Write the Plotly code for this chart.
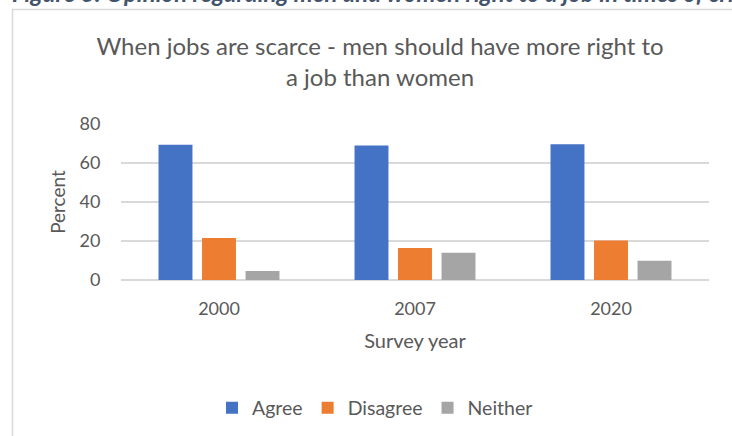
import plotly.graph_objects as go

years = ["2000", "2007", "2020"]
agree = [69.4, 69.0, 69.6]
disagree = [21.5, 16.4, 20.3]
neither = [4.6, 14.0, 9.9]
series_names = ["Agree", "Disagree", "Neither"]
colors = ["#4472C4", "#ED7D31", "#A5A5A5"]

W, H = 732, 436
L, R, T, B = 121, 23, 124, 156
plot_w = W - L - R
plot_h = H - T - B

def px_x(p):
    return (p - L) / plot_w

def px_y(p):
    return (H - B - p) / plot_h

FONT = "Lato, Carlito, Calibri, sans-serif"
TXT = "#595959"

fig = go.Figure()
for name, vals, col in zip(series_names, [agree, disagree, neither], colors):
    fig.add_trace(go.Bar(x=years, y=vals, name=name, marker=dict(color=col, line=dict(width=0))))

fig.update_layout(
    width=W, height=H,
    margin=dict(l=L, r=R, t=T, b=B, pad=0, autoexpand=False),
    paper_bgcolor="white", plot_bgcolor="white",
    font=dict(family=FONT, color=TXT, size=18),
    barmode="group", bargap=0.334, bargroupgap=0.22,
    title=dict(
        text="When jobs are scarce - men should have more right to<br>a job than women",
        x=380 / W, xanchor="center", xref="container",
        y=1 - 55 / H, yanchor="top", yref="container",
        font=dict(size=24, color=TXT, family=FONT),
    ),
    showlegend=True,
    legend=dict(orientation="h", x=px_x(375), xanchor="center", y=px_y(408), yanchor="middle",
                font=dict(size=19.5, color=TXT), itemwidth=30, traceorder="normal"),
)
fig.update_yaxes(
    range=[0, 80.01], tickvals=[0, 20, 40, 60, 80], showgrid=True, gridcolor="#D9D9D9", gridwidth=1.5,
    zeroline=True, zerolinecolor="#D9D9D9", zerolinewidth=1.5, showline=False,
    ticks="outside", ticklen=16, tickcolor="rgba(0,0,0,0)", automargin=False,
    title=dict(text="Percent", standoff=8, font=dict(size=19, color=TXT)),
    tickfont=dict(size=18, color=TXT),
)
fig.update_xaxes(
    showline=False, ticks="outside", ticklen=12, tickcolor="rgba(0,0,0,0)", automargin=False,
    title=dict(text="Survey year", standoff=16, font=dict(size=20, color=TXT)),
    tickfont=dict(size=18, color=TXT),
)

# chart frame
fig.add_shape(type="rect", xref="paper", yref="paper",
              x0=px_x(12.5), x1=px_x(780), y0=px_y(480), y1=px_y(9.5),
              line=dict(color="#D9D9D9", width=1.5), fillcolor="rgba(0,0,0,0)", layer="below")

# document caption above the chart (cut off at the top of the image)
fig.add_annotation(
    text="<b><i>Figure 3: Opinion regarding men and women right to a job in times of crisis</i></b>",
    xref="paper", yref="paper", x=px_x(10), y=px_y(9), xanchor="left", yanchor="bottom",
    showarrow=False, font=dict(size=24, color="#44546A", family=FONT),
)

fig.write_html("out.html", config={"displayModeBar": False},
               post_script="document.body.style.margin='0';document.body.style.overflow='hidden';")
